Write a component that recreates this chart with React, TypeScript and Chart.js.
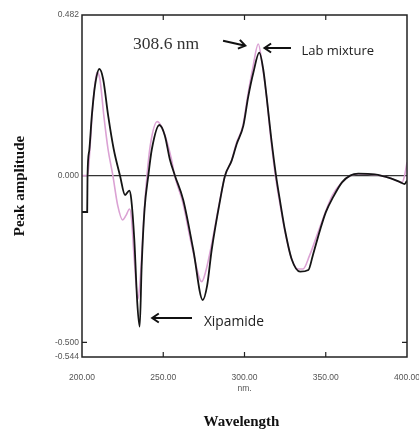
import React, { useEffect, useRef } from "react";
import { Chart, registerables } from "chart.js";

Chart.register(...registerables);

// Black trace (wavelength nm, peak amplitude)
const blackWl = [200, 203.2, 203.4, 204.5, 206, 208, 210.7, 213, 216.2, 219.5, 223.4, 226.5, 229.1, 230.3, 232.2, 234, 235.5, 236.7, 238.5, 240.8, 242.9, 247.6, 251, 254, 257.2, 262.3, 268.5, 274.3, 277, 279.8, 285, 288, 292.1, 295.2, 299.3, 302.3, 305.5, 309.1, 311.5, 313.6, 316.5, 319.4, 322, 324.9, 329, 334.2, 339.3, 342, 346.5, 350, 354.7, 360, 365, 370, 380, 390, 396, 398.5, 400];
const blackAmp = [-0.109, -0.109, 0.0, 0.077, 0.177, 0.27, 0.32, 0.29, 0.177, 0.08, 0.0, -0.058, -0.045, -0.07, -0.193, -0.38, -0.453, -0.273, -0.1, 0.0, 0.077, 0.152, 0.12, 0.05, 0.0, -0.073, -0.223, -0.373, -0.33, -0.223, -0.073, 0.0, 0.045, 0.095, 0.15, 0.237, 0.31, 0.369, 0.32, 0.237, 0.11, 0.0, -0.08, -0.163, -0.25, -0.288, -0.283, -0.24, -0.163, -0.11, -0.063, -0.02, 0.0, 0.006, 0.004, -0.008, -0.02, -0.025, -0.015];

// Pink trace
const pinkWl = [200, 203.5, 205, 206.5, 209.2, 211, 213.5, 216, 219, 222, 225, 227, 229.3, 230.5, 232, 234.5, 236, 238, 240, 242, 246.3, 250, 255, 257, 262, 268, 273.7, 276, 280, 285, 288, 292, 295, 299, 302, 305, 308.5, 311, 313.5, 316, 319, 322, 325, 329, 333, 336, 340, 346, 354, 360, 365, 370, 380, 390, 397, 398.5, 400];
const pinkAmp = [0.0, 0.0, 0.09, 0.2, 0.31, 0.29, 0.177, 0.08, 0.0, -0.09, -0.133, -0.12, -0.1, -0.13, -0.24, -0.37, -0.3, -0.13, 0.0, 0.09, 0.162, 0.135, 0.05, 0.0, -0.08, -0.22, -0.318, -0.29, -0.2, -0.07, 0.0, 0.045, 0.097, 0.15, 0.24, 0.32, 0.395, 0.33, 0.24, 0.12, 0.0, -0.09, -0.17, -0.25, -0.28, -0.28, -0.24, -0.16, -0.06, -0.02, 0.0, 0.005, 0.003, -0.008, -0.02, 0.0, 0.04];

const xTicks = [200, 250, 300, 350, 400];
const xInnerTicks = [250, 300, 350];
const yTicks = [0.482, 0.0, -0.5, -0.544];
const yInnerTicks = [-0.5];

const peakLabel = "308.6 nm";
const labMixLabel = "Lab mixture";
const xipLabel = "Xipamide";
const yTitle = "Peak amplitude";
const xTitle = "Wavelength";

function App() {
  const ref = useRef<HTMLCanvasElement | null>(null);

  useEffect(() => {
    document.body.style.margin = "0";
    const canvas = ref.current!;
    const toPts = (xs: number[], ys: number[]) => xs.map((x, i) => ({ x, y: ys[i] }));

    const drawArrow = (ctx: CanvasRenderingContext2D, x1: number, y1: number, x2: number, y2: number) => {
      const ang = Math.atan2(y2 - y1, x2 - x1);
      const h = 8;
      ctx.beginPath();
      ctx.moveTo(x1, y1);
      ctx.lineTo(x2, y2);
      ctx.moveTo(x2 - h * Math.cos(ang - 0.6), y2 - h * Math.sin(ang - 0.6));
      ctx.lineTo(x2, y2);
      ctx.lineTo(x2 - h * Math.cos(ang + 0.6), y2 - h * Math.sin(ang + 0.6));
      ctx.stroke();
    };

    const overlay = {
      id: "overlay",
      afterDraw(chart: any) {
        const ctx = chart.ctx as CanvasRenderingContext2D;
        const a = chart.chartArea;
        const xs = chart.scales.x;
        const ys = chart.scales.y;
        ctx.save();
        ctx.strokeStyle = "#222";
        ctx.lineWidth = 1.5;
        ctx.strokeRect(a.left, a.top, a.right - a.left, a.bottom - a.top);
        ctx.lineWidth = 1.2;
        ctx.beginPath();
        xInnerTicks.forEach((v) => {
          const px = xs.getPixelForValue(v);
          ctx.moveTo(px, a.bottom);
          ctx.lineTo(px, a.bottom - 5);
          ctx.moveTo(px, a.top);
          ctx.lineTo(px, a.top + 5);
        });
        yInnerTicks.forEach((v) => {
          const py = ys.getPixelForValue(v);
          ctx.moveTo(a.left, py);
          ctx.lineTo(a.left + 5, py);
          ctx.moveTo(a.right, py);
          ctx.lineTo(a.right - 5, py);
        });
        ctx.stroke();

        // annotations
        ctx.fillStyle = "#333";
        ctx.font = '17.5px "Liberation Serif", "Times New Roman", serif';
        ctx.textBaseline = "alphabetic";
        ctx.textAlign = "left";
        ctx.fillText(peakLabel, xs.getPixelForValue(231.4), ys.getPixelForValue(0.38));

        ctx.strokeStyle = "#111";
        ctx.lineWidth = 2;
        drawArrow(ctx, xs.getPixelForValue(286.8), ys.getPixelForValue(0.405), xs.getPixelForValue(300.5), ys.getPixelForValue(0.39));
        drawArrow(ctx, xs.getPixelForValue(328.6), ys.getPixelForValue(0.383), xs.getPixelForValue(312.3), ys.getPixelForValue(0.383));
        drawArrow(ctx, xs.getPixelForValue(267.7), ys.getPixelForValue(-0.427), xs.getPixelForValue(243.2), ys.getPixelForValue(-0.427));

        ctx.fillStyle = "#222";
        ctx.font = '13px "Open Sans", "Noto Sans", sans-serif';
        ctx.textBaseline = "middle";
        ctx.fillText(labMixLabel, xs.getPixelForValue(335), ys.getPixelForValue(0.374));
        ctx.font = '13.8px "Open Sans", "Noto Sans", sans-serif';
        ctx.fillText(xipLabel, xs.getPixelForValue(275), ys.getPixelForValue(-0.438));

        // axis titles
        ctx.fillStyle = "#111";
        ctx.font = 'bold 15px "Liberation Serif", "Times New Roman", serif';
        ctx.textAlign = "center";
        ctx.textBaseline = "alphabetic";
        ctx.fillText(xTitle, (a.left + a.right) / 2 - 3, 426);
        ctx.save();
        ctx.translate(24, (a.top + a.bottom) / 2);
        ctx.rotate(-Math.PI / 2);
        ctx.fillText(yTitle, 0, 0);
        ctx.restore();
        ctx.restore();
      },
    };

    const chart = new Chart(canvas, {
      type: "line",
      data: {
        datasets: [
          {
            label: "black",
            data: toPts(blackWl, blackAmp),
            borderColor: "#151515",
            borderWidth: 1.8,
            pointRadius: 0,
            cubicInterpolationMode: "monotone",
            order: 0,
          },
          {
            label: "pink",
            data: toPts(pinkWl, pinkAmp),
            borderColor: "#dba2d4",
            borderWidth: 1.6,
            pointRadius: 0,
            cubicInterpolationMode: "monotone",
            order: 1,
          },
        ],
      },
      options: {
        responsive: false,
        animation: false,
        layout: { padding: { top: 15, right: 12, left: 0, bottom: 0 } },
        plugins: { legend: { display: false }, tooltip: { enabled: false } },
        scales: {
          x: {
            type: "linear",
            min: 200,
            max: 400,
            afterBuildTicks: (s: any) => {
              s.ticks = xTicks.map((v) => ({ value: v }));
            },
            afterFit: (s: any) => {
              s.height = 72;
              s.paddingRight = 0;
              s.paddingLeft = 0;
            },
            grid: { display: false },
            border: { display: false },
            ticks: {
              padding: 8,
              maxRotation: 0,
              autoSkip: false,
              color: "#555",
              font: { size: 8.5, family: '"Liberation Sans", Arial, sans-serif' },
              callback: (v: any) => (Number(v) === 300 ? ["300.00", "nm."] : Number(v).toFixed(2)),
            },
          },
          y: {
            type: "linear",
            min: -0.544,
            max: 0.482,
            afterBuildTicks: (s: any) => {
              s.ticks = yTicks.map((v) => ({ value: v }));
            },
            afterFit: (s: any) => {
              s.width = 82;
              s.paddingTop = 0;
              s.paddingBottom = 0;
            },
            grid: {
              drawTicks: false,
              color: (c: any) => (c.tick && c.tick.value === 0 ? "#333" : "rgba(0,0,0,0)"),
              lineWidth: 1.2,
            },
            border: { display: false },
            ticks: {
              padding: 3,
              autoSkip: false,
              color: "#555",
              font: { size: 8.5, family: '"Liberation Sans", Arial, sans-serif' },
              callback: (v: any) => Number(v).toFixed(3),
            },
          },
        },
      },
      plugins: [overlay],
    } as any);

    return () => chart.destroy();
  }, []);

  return <canvas ref={ref} width={419} height={429} style={{ display: "block", width: 419, height: 429 }} />;
}

export default App;
